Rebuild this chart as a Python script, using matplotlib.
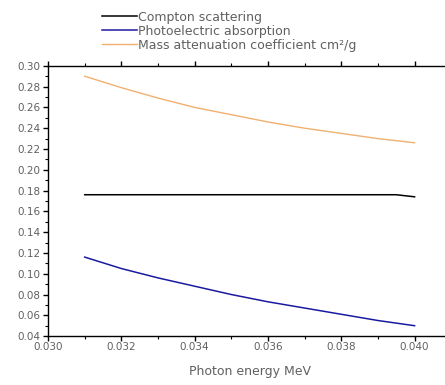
import matplotlib.pyplot as plt
from matplotlib.ticker import MultipleLocator, FormatStrFormatter

plt.rcParams["font.family"] = ["DejaVu Sans"]

# %% Datos
energia = [0.031, 0.032, 0.033, 0.034, 0.035, 0.036, 0.037, 0.038, 0.039, 0.0395, 0.040]
compton = [0.176, 0.176, 0.176, 0.176, 0.176, 0.176, 0.176, 0.176, 0.176, 0.176, 0.174]
fotoelectrico = [0.116, 0.105, 0.096, 0.088, 0.080, 0.073, 0.067, 0.061, 0.055, 0.0525, 0.050]
atenuacion = [0.290, 0.279, 0.269, 0.260, 0.253, 0.246, 0.240, 0.235, 0.230, 0.228, 0.226]

# %% Figura
fig = plt.figure(figsize=(4.45, 3.85), dpi=100)
ax = fig.add_axes([0.108, 0.127, 0.906, 0.702])

ax.plot(energia, compton, color="black", lw=1.1, label="Compton scattering")
ax.plot(energia, fotoelectrico, color="#1a1aa0", lw=1.1, label="Photoelectric absorption")
ax.plot(energia, atenuacion, color="#f0b070", lw=1.0,
        label="Mass attenuation coefficient cm²/g")

ax.set_xlim(0.030, 0.041)
ax.set_ylim(0.04, 0.30)
ax.xaxis.set_major_locator(MultipleLocator(0.002))
ax.xaxis.set_minor_locator(MultipleLocator(0.001))
ax.yaxis.set_major_locator(MultipleLocator(0.02))
ax.yaxis.set_minor_locator(MultipleLocator(0.01))
ax.xaxis.set_major_formatter(FormatStrFormatter("%.3f"))
ax.yaxis.set_major_formatter(FormatStrFormatter("%.2f"))

ax.tick_params(axis="both", which="major", labelsize=7.5, labelcolor="#606060",
               length=3.5, width=1.0, direction="out", pad=2)
ax.tick_params(axis="x", which="major", pad=1)
ax.tick_params(axis="both", which="minor", length=2, width=0.8, direction="out")
ax.tick_params(axis="x", which="both", top=True)
ax.spines["right"].set_visible(False)
for s in ["left", "bottom", "top"]:
    ax.spines[s].set_linewidth(1.0)

ax.set_xlabel("Photon energy MeV", fontsize=9, color="#606060", labelpad=9)

fig.legend(loc="upper left", bbox_to_anchor=(0.205, 1.0), frameon=False,
           fontsize=9, handlelength=2.8, handletextpad=0.1, labelspacing=0.08,
           labelcolor="#606060", borderaxespad=0.45)

fig.savefig("out.png", dpi=100)
